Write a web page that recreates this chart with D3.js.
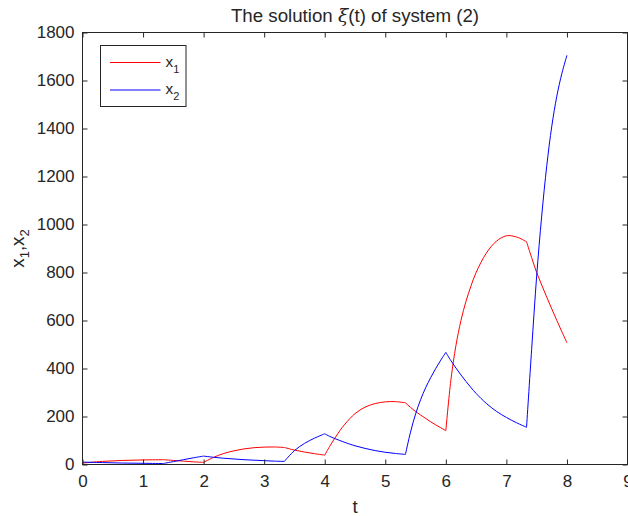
<!DOCTYPE html>
<html><head><meta charset="utf-8">
<script src="https://cdn.jsdelivr.net/npm/d3@7"></script>
<style>
body{margin:0;background:#fff}
svg text{font-family:"Liberation Sans",Arial,Helvetica,sans-serif;fill:#262626}
</style>
</head><body>
<svg id="chart" width="628" height="516"></svg>
<script>
// ---- data ----
const tValues = [0, 0.333, 0.667, 1, 1.333, 1.5, 1.667, 1.833, 2,
  2.167, 2.333, 2.5, 2.667, 2.833, 3, 3.167, 3.333,
  3.5, 3.667, 3.833, 4,
  4.083, 4.167, 4.25, 4.333, 4.5, 4.667, 4.833, 5, 5.167, 5.333,
  5.417, 5.5, 5.583, 5.667, 5.75, 5.833, 5.917, 6,
  6.083, 6.167, 6.25, 6.333, 6.417, 6.5, 6.667, 6.833, 7, 7.167, 7.333,
  7.417, 7.5, 7.583, 7.667, 7.75, 7.833, 7.917, 8];
const x1Values = [6, 13, 17, 19, 20, 17, 14, 11, 9,
  30, 46, 57, 65, 70, 72.5, 73, 71,
  60, 52, 45, 39,
  76, 110, 141, 168, 212, 239, 254, 261, 262, 257,
  238, 221, 206, 192, 178, 165, 153, 141,
  351, 496, 600, 680, 745, 800, 880, 930, 953, 948, 928,
  862, 800, 748, 697, 648, 600, 553, 507];
const x2Values = [10, 8, 6, 5, 4, 12, 20, 28, 35,
  30, 26, 23, 20, 18, 16, 14, 13,
  58, 88, 110, 128,
  117, 108, 100, 92, 78, 67, 58, 51, 46, 42,
  135, 210, 270, 320, 362, 400, 435, 467,
  433, 402, 373, 346, 320, 296, 255, 222, 196, 174, 155,
  480, 785, 1035, 1245, 1410, 1535, 1630, 1705];
const switchTimes = [0, 1.333, 2, 3.333, 4, 5.333, 6, 7.333, 8];
const xTicks = [0, 1, 2, 3, 4, 5, 6, 7, 8, 9];
const yTicks = [0, 200, 400, 600, 800, 1000, 1200, 1400, 1600, 1800];
const seriesNames = ["x1", "x2"];
const seriesColors = ["#ff0000", "#0000ff"];

// ---- layout ----
const svg = d3.select("#chart");
const L = 82.5, R = 627.5, T = 32.5, B = 464.5;
const x = d3.scaleLinear().domain([0, 9]).range([L, R]);
const y = d3.scaleLinear().domain([0, 1800]).range([B, T]);
const axisColor = "#262626";
const tickFont = 17;

// lines (each smooth piece between switching instants, sharp kinks at switches)
const line = d3.line().x(d => x(d[0])).y(d => y(d[1])).curve(d3.curveCatmullRom.alpha(0.5));
function pathFor(vals) {
  const pts = tValues.map((t, i) => [t, vals[i]]);
  let d = "";
  for (let k = 0; k < switchTimes.length - 1; k++) {
    const a = switchTimes[k], b = switchTimes[k + 1];
    const seg = pts.filter(p => p[0] >= a - 1e-3 && p[0] <= b + 1e-3);
    d += line(seg);
  }
  return d;
}
[x1Values, x2Values].forEach((vals, i) => {
  svg.append("path").attr("d", pathFor(vals)).attr("fill", "none")
    .attr("stroke", seriesColors[i]).attr("stroke-width", 1);
});

// axes
function styleAxis(g) {
  g.select(".domain").remove();
  g.selectAll(".tick line").attr("stroke", axisColor);
  g.selectAll(".tick text").attr("fill", axisColor).style("font-size", tickFont + "px")
    .style("font-family", '"Liberation Sans",Arial,sans-serif');
}
svg.append("g").attr("transform", `translate(0,${B})`)
  .call(d3.axisBottom(x).tickValues(xTicks).tickFormat(d3.format("d")).tickSize(-5).tickPadding(10))
  .call(styleAxis);
svg.append("g").attr("transform", `translate(0,${T})`)
  .call(d3.axisTop(x).tickValues(xTicks).tickFormat("").tickSize(-5))
  .call(styleAxis);
svg.append("g").attr("transform", `translate(${L},0)`)
  .call(d3.axisLeft(y).tickValues(yTicks).tickFormat(d3.format("d")).tickSize(-5).tickPadding(8))
  .call(styleAxis);
svg.append("g").attr("transform", `translate(${R},0)`)
  .call(d3.axisRight(y).tickValues(yTicks).tickFormat("").tickSize(-5))
  .call(styleAxis);
svg.append("rect").attr("x", L).attr("y", T).attr("width", R - L).attr("height", B - T)
  .attr("fill", "none").attr("stroke", axisColor).attr("stroke-width", 1);

// title
const title = svg.append("text").attr("x", (L + R) / 2).attr("y", 22)
  .attr("text-anchor", "middle").style("font-size", "18.7px");
title.append("tspan").text("The solution ");
title.append("tspan").style("font-style", "italic").style("font-family", '"DejaVu Serif",serif').text("ξ");
title.append("tspan").text("(t) of system (2)");

// x label
svg.append("text").attr("x", (L + R) / 2).attr("y", 513).attr("text-anchor", "middle")
  .style("font-size", "18.7px").text("t");

// y label
const yl = svg.append("text").attr("transform", `translate(24,${(T + B) / 2}) rotate(-90)`)
  .attr("text-anchor", "middle").style("font-size", "18.7px");
yl.append("tspan").text("x");
yl.append("tspan").attr("dy", 5).style("font-size", "13px").text("1");
yl.append("tspan").attr("dy", -5).text(",x");
yl.append("tspan").attr("dy", 5).style("font-size", "13px").text("2");

// legend
const lg = svg.append("g");
lg.append("rect").attr("x", 100.5).attr("y", 45.5).attr("width", 85.5).attr("height", 61)
  .attr("fill", "#fff").attr("stroke", axisColor).attr("stroke-width", 1);
const legY = [62.5, 90];
seriesNames.forEach((name, i) => {
  lg.append("line").attr("x1", 110).attr("x2", 160.5).attr("y1", legY[i]).attr("y2", legY[i])
    .attr("stroke", seriesColors[i]).attr("stroke-width", 1);
  const tx = lg.append("text").attr("x", 165.5).attr("y", legY[i] + 4).style("font-size", "15.3px");
  tx.append("tspan").text(name[0]);
  tx.append("tspan").attr("dy", 6).style("font-size", "11px").text(name.slice(1));
});
</script>
</body></html>
